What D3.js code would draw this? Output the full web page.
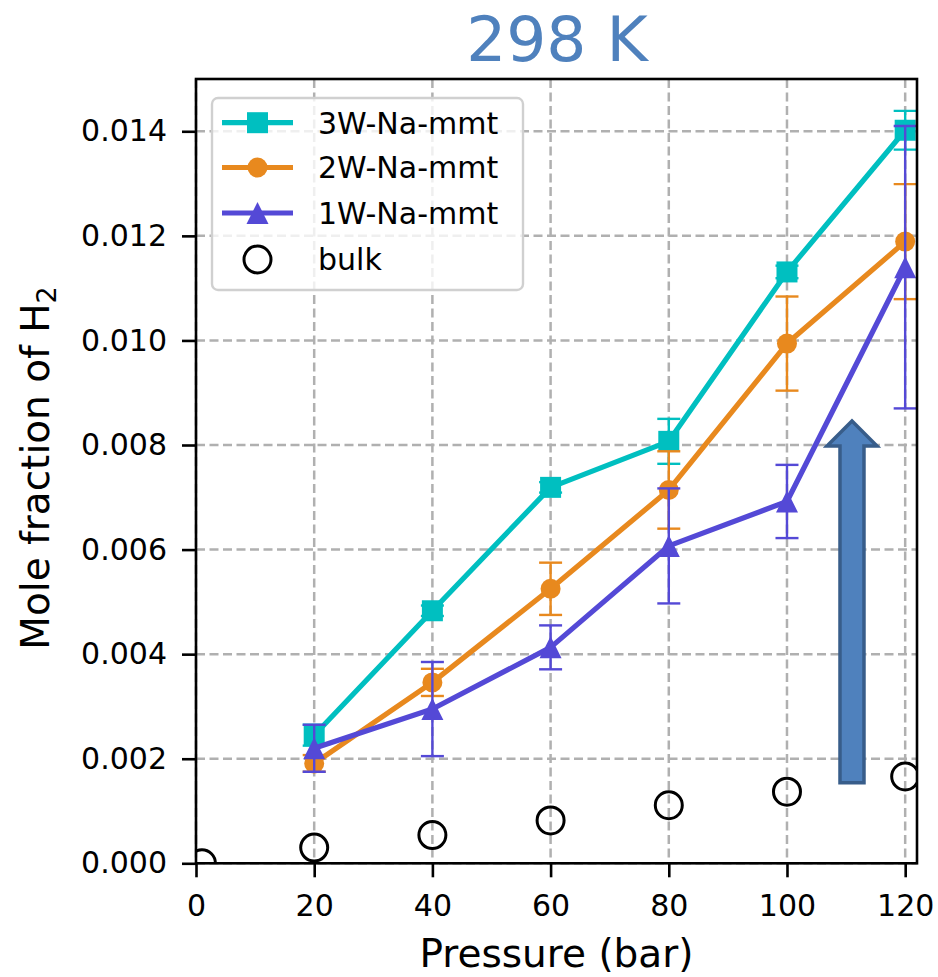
<!DOCTYPE html>
<html>
<head>
<meta charset="utf-8">
<script src="https://cdn.jsdelivr.net/npm/d3@7"></script>
<style>
  html, body { margin: 0; padding: 0; background: #fff; }
  svg { display: block; font-family: "DejaVu Sans", sans-serif; }
</style>
</head>
<body>
<svg id="chart" width="938" height="977"></svg>
<script>
// Pressure points (bar) shared by the clay-interlayer series
const pressure = [20, 40, 60, 80, 100, 120];

// Mole fraction of H2 and its standard deviation for each hydration state
const w3 = [0.00245, 0.00483, 0.00719, 0.00807, 0.01131, 0.01402];
const w3Err = [0.0002, 0.0001, 0.0001, 0.00043, 0.00012, 0.00037];
const w2 = [0.00191, 0.00346, 0.00525, 0.00714, 0.00994, 0.01189];
const w2Err = [0.00016, 0.00026, 0.0005, 0.00074, 0.0009, 0.0011];
const w1 = [0.0022, 0.00295, 0.00413, 0.00607, 0.00692, 0.0114];
const w1Err = [0.00045, 0.0009, 0.00042, 0.0011, 0.0007, 0.0027];

// Bulk water solubility
const bulkPressure = [1, 20, 40, 60, 80, 100, 120];
const bulk = [0.0, 0.0003, 0.00054, 0.00082, 0.00111, 0.00137, 0.00166];

// Axis ticks
const xTicks = [0, 20, 40, 60, 80, 100, 120];
const yTicks = [0, 0.002, 0.004, 0.006, 0.008, 0.010, 0.012, 0.014];

const seriesNames = ["3W-Na-mmt", "2W-Na-mmt", "1W-Na-mmt"];
const seriesColors = ["#00bfc0", "#e8891e", "#5449d6"];
const seriesMarkers = ["square", "circle", "triangle"];

const series = [
  { name: seriesNames[0], values: w3, errors: w3Err, color: seriesColors[0], marker: seriesMarkers[0] },
  { name: seriesNames[1], values: w2, errors: w2Err, color: seriesColors[1], marker: seriesMarkers[1] },
  { name: seriesNames[2], values: w1, errors: w1Err, color: seriesColors[2], marker: seriesMarkers[2] }
];

const svg = d3.select("#chart");
const plot = { left: 196, right: 917, top: 79, bottom: 863.3 };

const x = d3.scaleLinear().domain([0, 122]).range([plot.left, plot.right]);
const y = d3.scaleLinear().domain([0, 0.015]).range([plot.bottom, plot.top]);

svg.append("rect").attr("width", 938).attr("height", 977).attr("fill", "#fff");

svg.append("defs").append("clipPath").attr("id", "plotClip")
  .append("rect")
  .attr("x", plot.left).attr("y", plot.top)
  .attr("width", plot.right - plot.left).attr("height", plot.bottom - plot.top);

// Dashed grid
const grid = svg.append("g").attr("stroke", "#b0b0b0").attr("stroke-width", 2.5)
  .attr("stroke-dasharray", "9,4.5");
grid.selectAll("line.gx").data(xTicks).join("line")
  .attr("x1", d => x(d)).attr("x2", d => x(d))
  .attr("y1", plot.top).attr("y2", plot.bottom);
grid.selectAll("line.gy").data(yTicks).join("line")
  .attr("x1", plot.left).attr("x2", plot.right)
  .attr("y1", d => y(d)).attr("y2", d => y(d));

// Axes
const xAxis = svg.append("g")
  .attr("transform", `translate(0,${plot.bottom})`)
  .call(d3.axisBottom(x).tickValues(xTicks).tickFormat(d3.format("d")).tickSize(14).tickPadding(17));
const yAxis = svg.append("g")
  .attr("transform", `translate(${plot.left},0)`)
  .call(d3.axisLeft(y).tickValues(yTicks).tickFormat(d3.format(".3f")).tickSize(14).tickPadding(15));
[xAxis, yAxis].forEach(a => {
  a.select(".domain").remove();
  a.selectAll(".tick line").attr("stroke", "#000").attr("stroke-width", 2.6);
  a.selectAll(".tick text").attr("fill", "#000")
    .style("font-family", "DejaVu Sans").style("font-size", "30px");
});

// Marker shapes
function markerPath(type, cx, cy) {
  if (type === "square") {
    const h = 10.5;
    return `M${cx - h},${cy - h}H${cx + h}V${cy + h}H${cx - h}Z`;
  }
  if (type === "triangle") {
    const s = 11;
    return `M${cx},${cy - s}L${cx + s},${cy + s}L${cx - s},${cy + s}Z`;
  }
  const r = 10;
  return `M${cx + r},${cy}A${r},${r} 0 1,1 ${cx - r},${cy}A${r},${r} 0 1,1 ${cx + r},${cy}Z`;
}

const data = svg.append("g").attr("clip-path", "url(#plotClip)");
const line = d3.line().x(d => x(d.p)).y(d => y(d.v));
const capHalf = 11.5;

series.forEach(s => {
  const pts = pressure.map((p, i) => ({ p, v: s.values[i], e: s.errors[i] }));
  const g = data.append("g");
  // error bars
  const eb = g.append("g").attr("stroke", s.color).attr("stroke-width", 2.4);
  eb.selectAll("line.bar").data(pts).join("line")
    .attr("x1", d => x(d.p)).attr("x2", d => x(d.p))
    .attr("y1", d => y(d.v - d.e)).attr("y2", d => y(d.v + d.e));
  eb.selectAll("line.capTop").data(pts).join("line")
    .attr("x1", d => x(d.p) - capHalf).attr("x2", d => x(d.p) + capHalf)
    .attr("y1", d => y(d.v + d.e)).attr("y2", d => y(d.v + d.e));
  eb.selectAll("line.capBot").data(pts).join("line")
    .attr("x1", d => x(d.p) - capHalf).attr("x2", d => x(d.p) + capHalf)
    .attr("y1", d => y(d.v - d.e)).attr("y2", d => y(d.v - d.e));
  // connecting line
  g.append("path").datum(pts).attr("d", line)
    .attr("fill", "none").attr("stroke", s.color).attr("stroke-width", 5.2)
    .attr("stroke-linejoin", "round");
  // markers
  g.selectAll("path.mk").data(pts).join("path")
    .attr("d", d => markerPath(s.marker, x(d.p), y(d.v)))
    .attr("fill", s.color);
});

// Bulk open circles
data.append("g").selectAll("circle").data(bulkPressure.map((p, i) => ({ p, v: bulk[i] })))
  .join("circle")
  .attr("cx", d => x(d.p)).attr("cy", d => y(d.v)).attr("r", 13.5)
  .attr("fill", "none").attr("stroke", "#000").attr("stroke-width", 3);

// Upward block arrow annotation
const arrowX = 111, arrowBase = 0.00154, arrowHeadBase = 0.00798, arrowTip = 0.00846;
const ax = x(arrowX), shaftHalf = 12, headHalf = 25;
const arrowPath = [
  [ax - shaftHalf, y(arrowBase)],
  [ax - shaftHalf, y(arrowHeadBase)],
  [ax - headHalf, y(arrowHeadBase)],
  [ax, y(arrowTip)],
  [ax + headHalf, y(arrowHeadBase)],
  [ax + shaftHalf, y(arrowHeadBase)],
  [ax + shaftHalf, y(arrowBase)]
];
svg.append("path")
  .attr("d", "M" + arrowPath.map(p => p.join(",")).join("L") + "Z")
  .attr("fill", "#4f81bd").attr("stroke", "#385d8a").attr("stroke-width", 3.5)
  .attr("stroke-linejoin", "miter");

// Spines
svg.append("rect")
  .attr("x", plot.left).attr("y", plot.top)
  .attr("width", plot.right - plot.left).attr("height", plot.bottom - plot.top)
  .attr("fill", "none").attr("stroke", "#000").attr("stroke-width", 2.6);

// Legend
const legend = svg.append("g");
legend.append("rect")
  .attr("x", 212).attr("y", 98).attr("width", 311).attr("height", 192)
  .attr("rx", 6).attr("ry", 6)
  .attr("fill", "#fff").attr("fill-opacity", 0.8)
  .attr("stroke", "#d0d0d0").attr("stroke-width", 2.4);
const legendRows = [122.7, 167.5, 213, 259.5];
series.forEach((s, i) => {
  const ly = legendRows[i];
  legend.append("line").attr("x1", 222).attr("x2", 293).attr("y1", ly).attr("y2", ly)
    .attr("stroke", s.color).attr("stroke-width", 5.2);
  legend.append("path").attr("d", markerPath(s.marker, 257.5, ly)).attr("fill", s.color);
  legend.append("text").attr("x", 318).attr("y", ly).attr("dy", "0.36em")
    .style("font-size", "30px").attr("fill", "#000").text(s.name);
});
legend.append("circle").attr("cx", 257.5).attr("cy", legendRows[3]).attr("r", 13.5)
  .attr("fill", "none").attr("stroke", "#000").attr("stroke-width", 3);
legend.append("text").attr("x", 318).attr("y", legendRows[3]).attr("dy", "0.36em")
  .style("font-size", "30px").attr("fill", "#000").text("bulk");

// Axis titles
svg.append("text").attr("x", 556.5).attr("y", 967).attr("text-anchor", "middle")
  .style("font-size", "39px").attr("fill", "#000").text("Pressure (bar)");
const yl = svg.append("text")
  .attr("transform", "translate(49,468) rotate(-90)")
  .attr("text-anchor", "middle").style("font-size", "39px").attr("fill", "#000");
yl.append("tspan").text("Mole fraction of H");
yl.append("tspan").attr("dy", "0.25em").style("font-size", "27px").text("2");

// Temperature title
svg.append("text").attr("x", 557).attr("y", 61).attr("text-anchor", "middle")
  .style("font-size", "63px").attr("fill", "#4f81bd").text("298 K");
</script>
</body>
</html>
